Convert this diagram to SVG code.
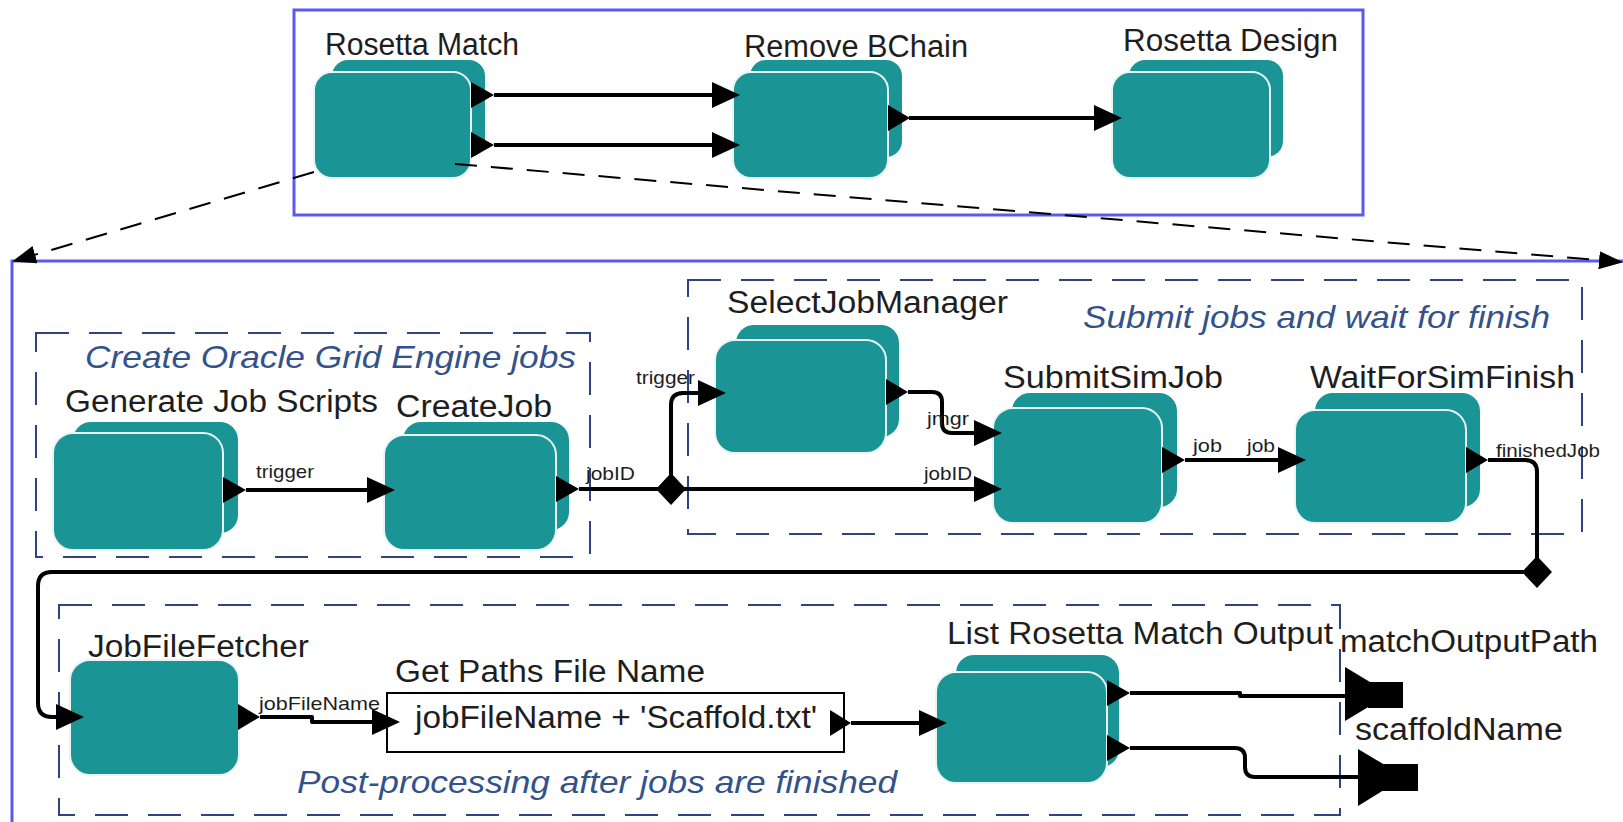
<svg xmlns="http://www.w3.org/2000/svg" width="1623" height="822" viewBox="0 0 1623 822">
  <style>
    .bg { fill: #ffffff; }
    .frame { fill: none; stroke: #5a5af2; stroke-width: 3; }
    .grp { fill: none; stroke: #2c4384; stroke-width: 2; stroke-dasharray: 33 20; }
    .back { fill: #1a9494; }
    .front { fill: #1a9494; stroke: #e9f5f5; stroke-width: 2; }
    .port { fill: #000000; }
    .wire { fill: none; stroke: #000000; stroke-width: 4; stroke-linejoin: round; }
    .zoom { fill: none; stroke: #000000; stroke-width: 2; stroke-dasharray: 22 14; }
    .lbl { font-family: "Liberation Sans", Arial, sans-serif; font-size: 31px; fill: #1e1e1e; }
    .ttl { font-family: "Liberation Sans", Arial, sans-serif; font-size: 32px; font-style: italic; fill: #34528a; }
    .pl { font-family: "Liberation Sans", Arial, sans-serif; font-size: 19px; fill: #1e1e1e; }
    .expr { fill: #ffffff; stroke: #000000; stroke-width: 2; }
  </style>
  <defs>
    <marker id="ah" markerUnits="userSpaceOnUse" markerWidth="28" markerHeight="26" refX="20" refY="13" orient="auto">
      <path d="M0,0 L28,13 L0,26 Z" fill="#000000"/>
    </marker>
    <marker id="dh" markerUnits="userSpaceOnUse" markerWidth="24" markerHeight="18" refX="22" refY="9" orient="auto">
      <path d="M0,0 L24,9 L0,18 Z" fill="#000000"/>
    </marker>
  </defs>

  <rect class="bg" x="0" y="0" width="1623" height="822"/>

  <!-- outer frames -->
  <rect class="frame" x="294" y="10" width="1069" height="205"/>
  <rect class="frame" x="12" y="261" width="1620" height="570"/>

  <!-- composite groups -->
  <g id="group-create">
    <rect class="grp" x="36" y="333" width="554" height="224"/>
    <text class="ttl" x="85" y="368" textLength="491" lengthAdjust="spacingAndGlyphs">Create Oracle Grid Engine jobs</text>
  </g>
  <g id="group-submit">
    <rect class="grp" x="688" y="280" width="894" height="254"/>
    <text class="ttl" x="1083" y="328" textLength="467" lengthAdjust="spacingAndGlyphs">Submit jobs and wait for finish</text>
  </g>
  <g id="group-post">
    <rect class="grp" x="59" y="605" width="1281" height="210"/>
    <text class="ttl" x="297" y="793" textLength="600" lengthAdjust="spacingAndGlyphs">Post-processing after jobs are finished</text>
  </g>

  <!-- top level actors -->
  <g id="rosetta-match">
    <rect class="back" x="332" y="60" width="153" height="97" rx="16"/>
    <rect class="front" x="314" y="72" width="157" height="106" rx="18"/>
    <polygon class="port" points="471,82 494,95 471,108"/>
    <polygon class="port" points="471,132 494,145 471,158"/>
    <text class="lbl" x="325" y="55" textLength="194" lengthAdjust="spacingAndGlyphs">Rosetta Match</text>
  </g>
  <g id="remove-bchain">
    <rect class="back" x="750" y="60" width="152" height="97" rx="16"/>
    <rect class="front" x="733" y="72" width="155" height="106" rx="18"/>
    <polygon class="port" points="888,105 910,118 888,131"/>
    <text class="lbl" x="744" y="57" textLength="224" lengthAdjust="spacingAndGlyphs">Remove BChain</text>
  </g>
  <g id="rosetta-design">
    <rect class="back" x="1129" y="60" width="154" height="97" rx="16"/>
    <rect class="front" x="1112" y="72" width="158" height="106" rx="18"/>
    <text class="lbl" x="1123" y="51" textLength="215" lengthAdjust="spacingAndGlyphs">Rosetta Design</text>
  </g>

  <!-- inner workflow actors -->
  <g id="generate-job-scripts">
    <rect class="back" x="73" y="422" width="165" height="111" rx="18"/>
    <rect class="front" x="53" y="433" width="170" height="117" rx="20"/>
    <polygon class="port" points="223,477 246,490 223,503"/>
    <text class="lbl" x="65" y="412" textLength="313" lengthAdjust="spacingAndGlyphs">Generate Job Scripts</text>
  </g>
  <g id="create-job">
    <rect class="back" x="403" y="422" width="166" height="108" rx="18"/>
    <rect class="front" x="384" y="435" width="172" height="115" rx="20"/>
    <polygon class="port" points="556,476 579,489 556,502"/>
    <text class="lbl" x="396" y="417" textLength="156" lengthAdjust="spacingAndGlyphs">CreateJob</text>
  </g>
  <g id="select-job-manager">
    <rect class="back" x="736" y="325" width="163" height="112" rx="18"/>
    <rect class="front" x="715" y="340" width="171" height="113" rx="20"/>
    <polygon class="port" points="886,379 908,392 886,405"/>
    <text class="lbl" x="727" y="313" textLength="281" lengthAdjust="spacingAndGlyphs">SelectJobManager</text>
  </g>
  <g id="submit-sim-job">
    <rect class="back" x="1012" y="393" width="165" height="114" rx="18"/>
    <rect class="front" x="993" y="408" width="169" height="115" rx="20"/>
    <polygon class="port" points="1162,447 1185,460 1162,473"/>
    <text class="lbl" x="1003" y="388" textLength="220" lengthAdjust="spacingAndGlyphs">SubmitSimJob</text>
  </g>
  <g id="wait-for-sim-finish">
    <rect class="back" x="1315" y="393" width="165" height="114" rx="18"/>
    <rect class="front" x="1295" y="410" width="171" height="113" rx="20"/>
    <polygon class="port" points="1466,447 1488,460 1466,473"/>
    <text class="lbl" x="1310" y="388" textLength="265" lengthAdjust="spacingAndGlyphs">WaitForSimFinish</text>
  </g>
  <g id="job-file-fetcher">
    <rect class="front" x="70" y="660" width="169" height="115" rx="20" stroke="none"/>
    <polygon class="port" points="238,704 260,717 238,730"/>
    <text class="lbl" x="88" y="657" textLength="221" lengthAdjust="spacingAndGlyphs">JobFileFetcher</text>
  </g>
  <g id="get-paths-file-name">
    <rect class="expr" x="387" y="693" width="457" height="59"/>
    <polygon class="port" points="830,710 851,723 830,736"/>
    <text class="lbl" x="395" y="682" textLength="310" lengthAdjust="spacingAndGlyphs">Get Paths File Name</text>
    <text class="lbl" x="415" y="728" textLength="402" lengthAdjust="spacingAndGlyphs">jobFileName + 'Scaffold.txt'</text>
  </g>
  <g id="list-rosetta-match-output">
    <rect class="back" x="956" y="655" width="163" height="112" rx="18"/>
    <rect class="front" x="936" y="672" width="171" height="111" rx="20"/>
    <polygon class="port" points="1107,680 1130,693 1107,706"/>
    <polygon class="port" points="1107,735 1130,748 1107,761"/>
    <text class="lbl" x="947" y="644" textLength="386" lengthAdjust="spacingAndGlyphs">List Rosetta Match Output</text>
  </g>
  <g id="match-output-path">
    <polygon class="port" points="1345,667 1390,694 1345,721"/>
    <rect class="port" x="1368" y="682" width="35" height="26"/>
    <text class="lbl" x="1340" y="652" textLength="258" lengthAdjust="spacingAndGlyphs">matchOutputPath</text>
  </g>
  <g id="scaffold-name">
    <polygon class="port" points="1358,749 1405,777 1358,806"/>
    <rect class="port" x="1380" y="764" width="38" height="27"/>
    <text class="lbl" x="1355" y="740" textLength="208" lengthAdjust="spacingAndGlyphs">scaffoldName</text>
  </g>

  <!-- connectors -->
  <g id="connectors">
    <path class="zoom" d="M314,172 L14,261" marker-end="url(#dh)"/>
    <path class="zoom" d="M455,164 L1621,262" marker-end="url(#dh)"/>

    <path class="wire" d="M494,95 H732" marker-end="url(#ah)"/>
    <path class="wire" d="M494,145 H732" marker-end="url(#ah)"/>
    <path class="wire" d="M909,118 H1114" marker-end="url(#ah)"/>

    <path class="wire" d="M246,490 H387" marker-end="url(#ah)"/>
    <path class="wire" d="M579,489 H671"/>
    <path class="wire" d="M671,489 V405 Q671,393 683,393 H718" marker-end="url(#ah)"/>
    <path class="wire" d="M671,489 H994" marker-end="url(#ah)"/>
    <polygon class="port" points="671,473 686,489 671,505 656,489"/>
    <path class="wire" d="M908,392 H932 Q942,392 942,402 V423 Q942,433 952,433 H994" marker-end="url(#ah)"/>
    <path class="wire" d="M1185,460 H1298" marker-end="url(#ah)"/>
    <path class="wire" d="M1488,460 H1525 Q1537,460 1537,472 V572"/>
    <path class="wire" d="M1537,572 H52 Q38,572 38,586 V703 Q38,717 52,717 H76" marker-end="url(#ah)"/>
    <polygon class="port" points="1537,556 1552,572 1537,588 1522,572"/>
    <path class="wire" d="M260,717 H312 V722 H392" marker-end="url(#ah)"/>
    <path class="wire" d="M851,723 H939" marker-end="url(#ah)"/>
    <path class="wire" d="M1130,693 H1240 V696 H1350"/>
    <path class="wire" d="M1130,748 H1235 Q1245,748 1245,758 V767 Q1245,777 1255,777 H1362"/>

    <text class="pl" x="256" y="478" textLength="58" lengthAdjust="spacingAndGlyphs">trigger</text>
    <text class="pl" x="586" y="480" textLength="49" lengthAdjust="spacingAndGlyphs">jobID</text>
    <text class="pl" x="636" y="384" textLength="59" lengthAdjust="spacingAndGlyphs">trigger</text>
    <text class="pl" x="927" y="425" textLength="42" lengthAdjust="spacingAndGlyphs">jmgr</text>
    <text class="pl" x="924" y="480" textLength="48" lengthAdjust="spacingAndGlyphs">jobID</text>
    <text class="pl" x="1193" y="452" textLength="29" lengthAdjust="spacingAndGlyphs">job</text>
    <text class="pl" x="1247" y="452" textLength="28" lengthAdjust="spacingAndGlyphs">job</text>
    <text class="pl" x="1496" y="457" textLength="104" lengthAdjust="spacingAndGlyphs">finishedJob</text>
    <text class="pl" x="259" y="710" textLength="121" lengthAdjust="spacingAndGlyphs">jobFileName</text>
  </g>
</svg>
